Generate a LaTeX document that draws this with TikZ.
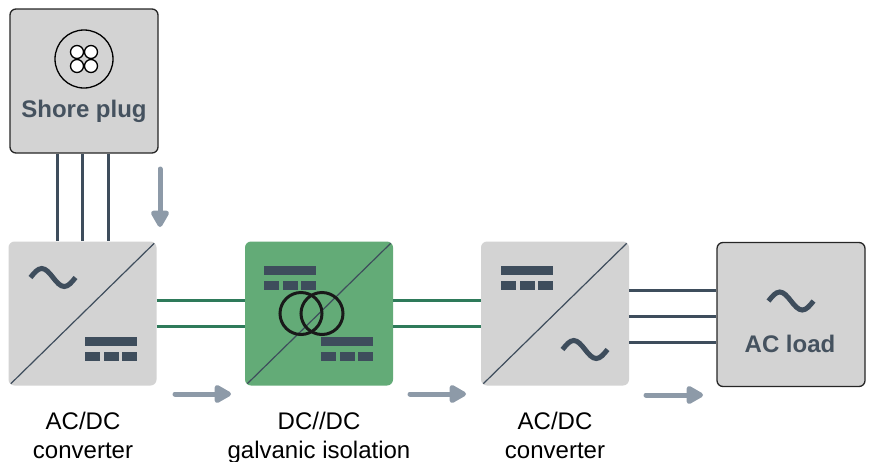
\documentclass[tikz,border=0pt]{standalone}
\usepackage{fontspec}
\setmainfont{Liberation Sans}
\usetikzlibrary{arrows.meta,calc}
\definecolor{boxgray}{HTML}{D3D3D3}
\definecolor{isogreen}{HTML}{63AB77}
\definecolor{slate}{HTML}{3E4D5C}
\definecolor{wiregreen}{HTML}{2E7A5A}
\definecolor{arrowgray}{HTML}{8D9AA8}
\definecolor{labeltext}{HTML}{45525F}
\tikzset{
  box/.style={rectangle, minimum width=148pt, minimum height=144pt, inner sep=0pt, rounded corners=6pt},
  framedbox/.style={box, fill=boxgray, draw=black!85, line width=1.3pt},
  convbox/.style={box, fill=boxgray},
  isobox/.style={box, fill=isogreen},
  diag/.style={slate, line width=1.2pt},
  wire/.style={slate, line width=3pt},
  gwire/.style={wiregreen, line width=3pt},
  flow/.style={arrowgray, line width=5pt, line cap=round, -{Triangle[length=19pt,width=20pt,round=false]}},
  sinestroke/.style={slate, line width=5pt},
  boldlabel/.style={font=\fontsize{24}{28}\selectfont\bfseries, text=labeltext, inner sep=0pt, anchor=base},
  caption/.style={font=\fontsize{24}{29}\selectfont, align=center, inner sep=0pt, anchor=base},
  dcsym/.pic={
    \fill[slate] (0,0) rectangle (52,9);
    \fill[slate] (0,15) rectangle (15,24);
    \fill[slate] (18.5,15) rectangle (33.5,24);
    \fill[slate] (37,15) rectangle (52,24);
  },
  acsym/.pic={
    \draw[sinestroke] (-22.5,0) sin (-11.25,-9) cos (0,0) sin (11.25,9) cos (22.5,0);
  }
}
\begin{document}
\begin{tikzpicture}[x=1pt,y=-1pt]
\useasboundingbox (0,0) rectangle (872,461);

% boxes
\node[framedbox] (shore) at (84,81) {};
\node[convbox] (acdc1) at (82.5,313.5) {};
\node[isobox] (iso) at (319,313.5) {};
\node[convbox] (acdc2) at (555,313.5) {};
\node[framedbox] (load) at (791,314.5) {};

% shore plug symbol
\node[circle, draw=black, line width=1.3pt, minimum size=58pt, inner sep=0pt] (plug) at (84,59) {};
\foreach \px/\py [count=\i] in {77/52,91/52,77/66,91/66}
  \node[circle, draw=black, fill=white, line width=1.3pt, minimum size=13pt, inner sep=0pt] (pin\i) at (\px,\py) {};
\node[boldlabel] (shorelabel) at (84,117) {Shore plug};

% wires from shore plug
\foreach \dx in {-27,-2,24}
  \draw[wire] ([xshift=\dx pt]shore.south) -- ([xshift=\dx pt]shore.south |- acdc1.north);

% diagonals
\foreach \b in {acdc1,iso,acdc2}
  \draw[diag] ([shift={(2.5pt,2pt)}]\b.south west) -- ([shift={(-2.5pt,-2pt)}]\b.north east);

% DC symbols
\pic at (85,337) {dcsym};
\pic at (264,266) {dcsym};
\pic at (321,337) {dcsym};
\pic at (501,266) {dcsym};

% AC symbols
\pic at (53,277.5) {acsym};
\pic at (585,349.5) {acsym};
\pic at (791,301) {acsym};

% transformer
\node[circle, draw=black!90, line width=3pt, minimum size=42pt, inner sep=0pt] (tr1) at (301,313.5) {};
\node[circle, draw=black!90, line width=3pt, minimum size=42pt, inner sep=0pt] (tr2) at (322,313.5) {};

% green DC wires
\foreach \dy in {12.8,-13.2} {
  \draw[gwire] ([yshift=\dy pt]acdc1.east) -- ([yshift=\dy pt]acdc1.east -| iso.west);
  \draw[gwire] ([yshift=\dy pt]iso.east) -- ([yshift=\dy pt]iso.east -| acdc2.west);
}

% AC wires to load
\foreach \dy in {23.5,-2.5,-28.5}
  \draw[wire] ([yshift=\dy pt]acdc2.east) -- ([yshift=\dy pt]acdc2.east -| load.west);

\node[boldlabel] (loadlabel) at (790,352) {AC load};

% flow arrows
\coordinate (d0) at (160,169);
\coordinate (d1) at (160,227);
\draw[flow] (d0) -- (d1);
\coordinate (a0) at (175,394);
\coordinate (a1) at (231,394);
\draw[flow] (a0) -- (a1);
\coordinate (b0) at (410,394);
\coordinate (b1) at (466,394);
\draw[flow] (b0) -- (b1);
\coordinate (c0) at (646,395);
\coordinate (c1) at (703,395);
\draw[flow] (c0) -- (c1);

% captions (base anchor = last line's baseline)
\node[caption] (cap1) at (83,458) {AC/DC\\converter};
\node[caption] (cap2) at (319,458) {DC//DC\\galvanic isolation};
\node[caption] (cap3) at (555,458) {AC/DC\\converter};
\end{tikzpicture}
\end{document}
